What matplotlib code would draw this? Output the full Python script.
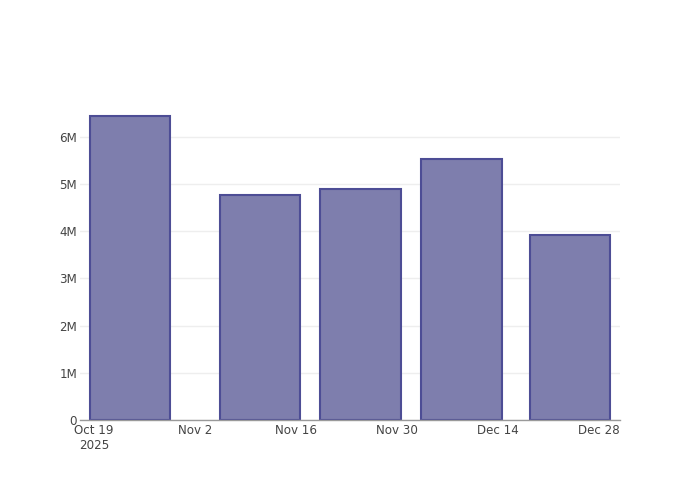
import matplotlib
matplotlib.use('Agg')
import matplotlib.pyplot as plt
import matplotlib.dates as mdates
import pandas as pd
from matplotlib.ticker import FuncFormatter

# data
dates = pd.to_datetime(['2025-10-24', '2025-11-11', '2025-11-25', '2025-12-09', '2025-12-24'])
values = [6.45e6, 4.77e6, 4.89e6, 5.53e6, 3.91e6]
tick_dates = pd.to_datetime(['2025-10-19', '2025-11-02', '2025-11-16', '2025-11-30', '2025-12-14', '2025-12-28'])
tick_labels = ['Oct 19\n2025', 'Nov 2', 'Nov 16', 'Nov 30', 'Dec 14', 'Dec 28']

bar_width = 0.8 * 14  # days
pad = 1.35  # days

fig = plt.figure(figsize=(7, 5), dpi=100)
ax = fig.add_axes([80/700, 80/500, 540/700, 320/500])

ax.bar(dates, values, width=bar_width, color='#7e7ead', edgecolor='#4d4d95', linewidth=1.5, zorder=3)

x0 = mdates.date2num(dates[0]) - bar_width/2 - pad
x1 = mdates.date2num(dates[-1]) + bar_width/2 + pad
ax.set_xlim(x0, x1)
ax.set_ylim(0, 6.78e6)

ax.set_xticks(mdates.date2num(tick_dates))
ax.set_xticklabels(tick_labels, fontsize=8.6, color='#444444', family='DejaVu Sans')
ax.set_yticks([0, 1e6, 2e6, 3e6, 4e6, 5e6, 6e6])
ax.yaxis.set_major_formatter(FuncFormatter(lambda v, p: '0' if v == 0 else f'{int(v/1e6)}M'))
for lbl in ax.get_yticklabels():
    lbl.set_fontsize(8.6)
    lbl.set_color('#444444')
ax.tick_params(axis='both', length=0)
ax.tick_params(axis='x', pad=3)
ax.tick_params(axis='y', pad=2)

ax.grid(True, axis='y', color='#eeeeee', linewidth=1, zorder=0)
for s in ['top', 'right', 'left']:
    ax.spines[s].set_visible(False)
ax.spines['bottom'].set_color('#9a9a9a')
ax.spines['bottom'].set_linewidth(1)
ax.spines['bottom'].set_zorder(4)

fig.savefig('out.png', dpi=100)
